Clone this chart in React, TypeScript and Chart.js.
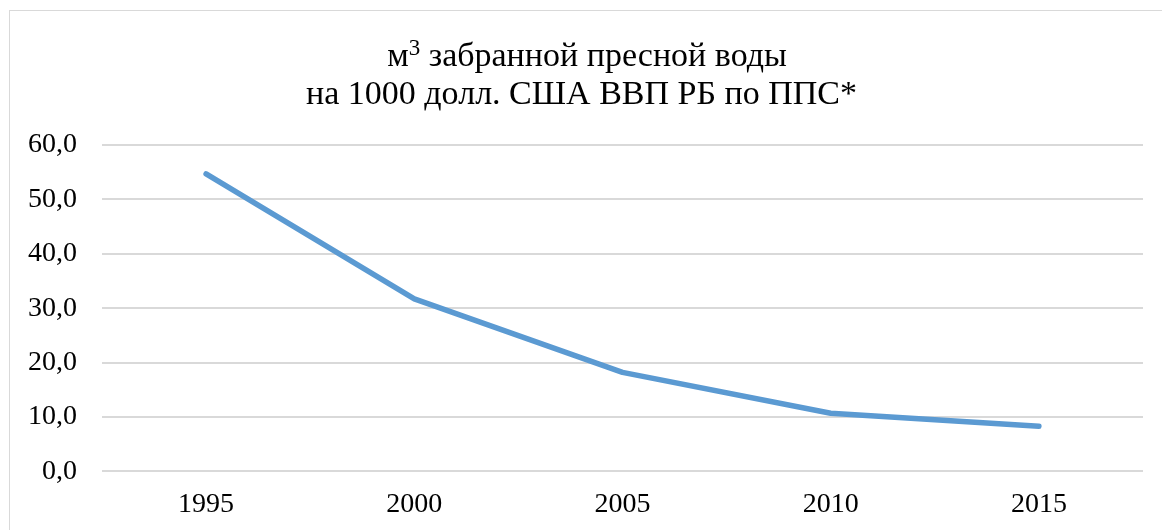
import React, { useEffect, useRef } from "react";
import { Chart, registerables } from "chart.js";

Chart.register(...registerables);

const categories = ["1995", "2000", "2005", "2010", "2015"];
const waterPerGdp = [54.7, 31.7, 18.2, 10.7, 8.3];
const titleUnit = "м";
const titleUnitPower = "3";
const titleLine1Rest = " забранной пресной воды";
const titleLine2 = "на 1000 долл. США ВВП РБ по ППС*";

const FONT = "'Liberation Serif', 'Times New Roman', serif";

const titleStyle: React.CSSProperties = {
  position: "absolute",
  left: 0,
  textAlign: "center",
  fontFamily: FONT,
  fontSize: 34,
  lineHeight: "38px",
  color: "#000",
  whiteSpace: "nowrap",
};

export default function App() {
  const ref = useRef<HTMLCanvasElement | null>(null);

  useEffect(() => {
    if (!ref.current) return;
    const chart = new Chart(ref.current, {
      type: "line",
      data: {
        labels: categories,
        datasets: [
          {
            data: waterPerGdp,
            borderColor: "#5b9ad2",
            borderWidth: 5.5,
            borderCapStyle: "round",
            borderJoinStyle: "round",
            pointRadius: 0,
            tension: 0,
            fill: false,
          },
        ],
      },
      options: {
        responsive: false,
        animation: false,
        layout: { padding: { top: 145, right: 19, bottom: 3, left: 3 } },
        plugins: {
          legend: { display: false },
          tooltip: { enabled: false },
          title: { display: false },
        },
        scales: {
          x: {
            offset: true,
            grid: { display: false, drawTicks: false },
            border: { display: false },
            ticks: { color: "#000", font: { family: FONT, size: 28 }, padding: 16 },
          },
          y: {
            min: 0,
            max: 60,
            grid: { color: "#d9d9d9", lineWidth: 2, drawTicks: false },
            border: { display: false },
            ticks: {
              stepSize: 10,
              color: "#000",
              font: { family: FONT, size: 28 },
              padding: 25,
              callback: (v: any) => Number(v).toFixed(1).replace(".", ","),
            },
          },
        },
      },
    });
    return () => chart.destroy();
  }, []);

  return (
    <div style={{ position: "fixed", left: 0, top: 0, width: 1162, height: 530, overflow: "hidden", background: "#fff" }}>
      <div
        style={{
          position: "absolute",
          left: 9,
          top: 10,
          width: 1200,
          height: 600,
          border: "1px solid #d9d9d9",
          boxSizing: "border-box",
        }}
      />
      <canvas
        ref={ref}
        width={1162}
        height={540}
        style={{ position: "absolute", left: 0, top: 0, display: "block" }}
      />
      <div style={{ ...titleStyle, top: 36, width: 1174 }}>
        {titleUnit}
        <span style={{ fontSize: 23, position: "relative", top: -11, lineHeight: 0 }}>{titleUnitPower}</span>
        {titleLine1Rest}
      </div>
      <div style={{ ...titleStyle, top: 74, width: 1163 }}>{titleLine2}</div>
    </div>
  );
}
